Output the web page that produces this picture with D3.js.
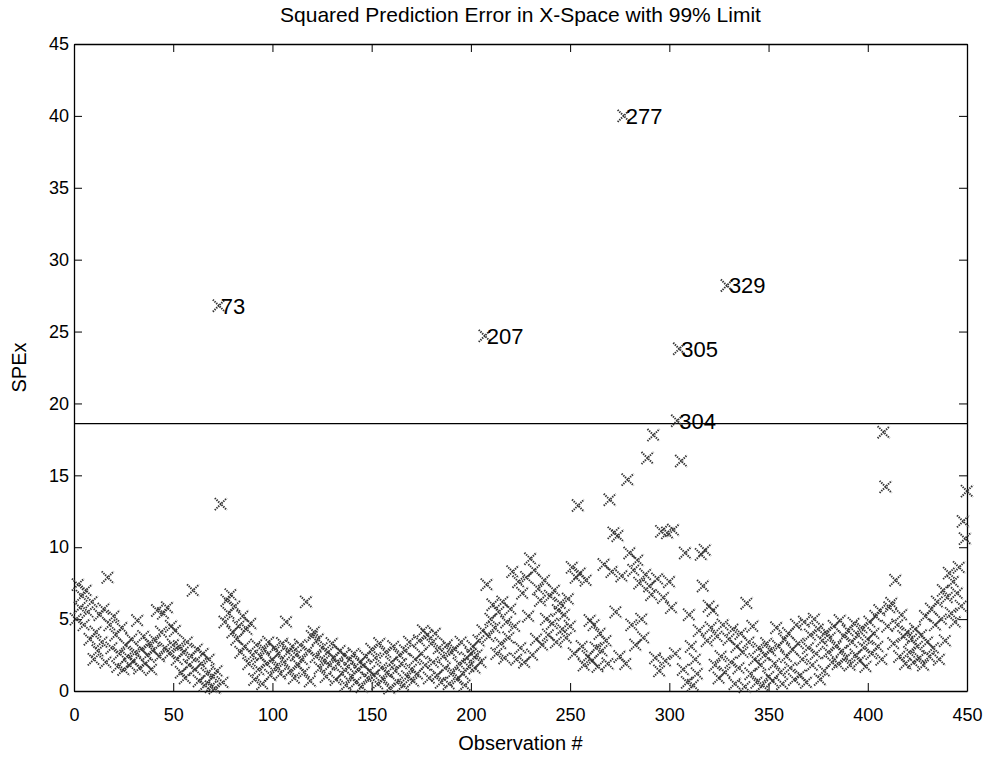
<!DOCTYPE html>
<html>
<head>
<meta charset="utf-8">
<script src="https://cdn.jsdelivr.net/npm/d3@7"></script>
<style>
  body { margin: 0; background: #fff; }
  text { font-family: "Liberation Sans", Arial, sans-serif; fill: #000; }
  .axis path, .axis line { stroke: #000; }
</style>
</head>
<body>
<div id="container"></div>
<script>
/* CONSTANTS AND GLOBALS */
const width = 992,
  height = 761,
  margin = { top: 44, bottom: 70, left: 74, right: 25 }

const spe = [
  5.0, 7.4, 5.8, 6.6, 4.6, 7.0, 5.5, 3.6, 6.2, 2.2,
  4.1, 2.8, 5.3, 3.4, 5.7, 2.0, 7.9, 4.6, 3.0, 5.2,
  3.9, 1.7, 2.6, 4.4, 1.5, 3.2, 2.4, 1.8, 3.6, 2.1,
  2.7, 4.9, 1.6, 2.9, 3.8, 1.9, 2.5, 3.3, 1.5, 2.8,
  3.5, 5.6, 2.4, 4.1, 5.4, 3.0, 5.8, 2.6, 4.5, 3.2,
  4.2, 2.2, 3.1, 1.3, 2.7, 0.9, 3.4, 1.8, 2.4, 7.0,
  1.5, 2.9, 0.7, 1.9, 2.6, 0.4, 1.2, 2.2, 0.3, 1.0,
  0.2, 1.4, 26.8, 13.0, 0.6, 4.8, 6.3, 5.4, 6.7, 4.1,
  5.9, 3.6, 4.5, 2.7, 5.2, 3.1, 4.3, 1.9, 4.7, 2.5,
  0.8, 3.2, 1.5, 2.4, 0.5, 2.9, 1.9, 3.4, 1.1, 2.2,
  3.0, 1.7, 2.6, 1.2, 3.3, 2.0, 4.8, 2.7, 1.4, 3.1,
  0.9, 2.5, 1.8, 3.2, 2.2, 1.3, 6.2, 2.8, 0.7, 3.8,
  4.1, 2.4, 3.6, 1.6, 3.0, 2.1, 1.0, 2.7, 1.8, 3.3,
  2.3, 0.8, 1.9, 2.8, 1.2, 2.5, 0.4, 1.7, 2.2, 1.0,
  2.6, 0.6, 1.5, 2.0, 0.3, 1.8, 2.4, 0.9, 1.4, 2.9,
  1.1, 2.3, 0.5, 3.3, 1.6, 0.8, 2.7, 1.3, 0.2, 2.0,
  3.1, 1.4, 0.6, 2.5, 1.9, 0.4, 2.8, 1.0, 3.4, 1.5,
  0.7, 2.2, 1.2, 3.5, 2.6, 4.2, 1.8, 3.9, 0.9, 3.3,
  2.0, 4.0, 1.1, 3.0, 0.6, 2.4, 1.6, 3.2, 0.5, 2.7,
  1.3, 2.9, 0.8, 1.9, 3.4, 1.2, 0.4, 2.3, 1.7, 2.6,
  3.1, 1.6, 2.5, 3.5, 2.0, 4.2, 24.7, 7.4, 3.8, 5.0,
  6.0, 4.4, 2.6, 5.5, 3.3, 6.2, 2.3, 4.8, 3.7, 5.7,
  8.3, 4.5, 2.2, 7.6, 3.0, 6.8, 2.0, 7.9, 5.2, 9.2,
  2.5, 8.4, 3.6, 7.1, 6.3, 3.2, 7.7, 5.0, 3.9, 6.6,
  4.7, 7.0, 3.4, 5.6, 6.1, 4.3, 5.3, 3.7, 6.4, 4.5,
  8.6, 2.6, 7.9, 12.9, 8.2, 3.1, 1.8, 7.7, 2.4, 4.9,
  2.1, 4.6, 3.0, 1.7, 4.0, 2.8, 8.8, 3.5, 1.9, 13.3,
  8.3, 11.0, 5.5, 10.8, 2.4, 8.0, 40.0, 1.9, 14.7, 9.6,
  4.6, 8.4, 3.2, 9.1, 7.5, 5.0, 3.7, 8.1, 16.2, 7.3,
  6.7, 17.8, 2.3, 7.8, 1.4, 11.1, 6.5, 2.1, 11.0, 7.6,
  5.8, 11.2, 2.6, 18.8, 23.8, 16.0, 1.5, 9.6, 0.6, 5.3,
  3.1, 0.4, 2.2, 1.2, 4.2, 9.5, 7.3, 9.8, 3.5, 5.9,
  4.4, 5.6, 1.8, 3.8, 0.9, 2.4, 4.6, 1.3, 28.2, 3.6,
  2.0, 4.3, 0.5, 3.1, 1.6, 4.0, 2.7, 0.3, 6.1, 3.4,
  1.2, 4.5, 2.2, 0.6, 3.0, 1.8, 0.4, 2.5, 3.3, 1.0,
  2.8, 0.7, 1.9, 4.4, 3.1, 1.3, 0.5, 3.6, 2.4, 4.0,
  1.6, 2.9, 0.8, 4.6, 3.3, 1.1, 2.2, 4.8, 0.6, 3.0,
  3.9, 1.8, 5.0, 2.6, 4.3, 0.8, 3.5, 1.4, 4.1, 2.7,
  3.7, 2.0, 4.5, 3.1, 1.9, 4.9, 2.8, 3.8, 2.3, 4.2,
  1.8, 3.4, 4.7, 2.5, 3.9, 2.1, 4.4, 3.0, 1.7, 3.6,
  4.8, 2.6, 4.0, 5.2, 3.1, 5.6, 2.2, 18.0, 14.2, 4.5,
  5.8, 6.1, 3.3, 7.7, 4.6, 2.4, 5.3, 3.8, 1.9, 4.1,
  2.7, 3.6, 2.0, 4.3, 3.1, 2.3, 3.9, 1.8, 5.2, 3.4,
  2.4, 5.7, 3.0, 4.6, 6.2, 2.2, 5.0, 7.0, 3.5, 6.5,
  8.2, 5.4, 7.6, 4.8, 6.8, 8.6, 5.9, 11.8, 10.6, 13.9
]

// observations flagged with their number
const flagged = [73, 207, 277, 304, 305, 329]
const limit99 = 18.6
const xTicks = [0, 50, 100, 150, 200, 250, 300, 350, 400, 450]
const yTicks = [0, 5, 10, 15, 20, 25, 30, 35, 40, 45]

const data = spe.map((v, i) => ({ obs: i + 1, spe: v }))

// SCALES
const xScale = d3.scaleLinear()
  .domain([0, 450])
  .range([margin.left, width - margin.right])

const yScale = d3.scaleLinear()
  .domain([0, 45])
  .range([height - margin.bottom, margin.top])

// CREATE SVG ELEMENT
const svg = d3.select("#container")
  .append("svg")
  .attr("width", width)
  .attr("height", height)

// BUILD AND CALL AXES (matlab style: ticks inside, on all four sides)
const tick = 8

svg.append("g")
  .attr("class", "axis")
  .attr("transform", `translate(0, ${height - margin.bottom})`)
  .call(d3.axisBottom(xScale).tickValues(xTicks).tickSizeInner(-tick).tickSizeOuter(0).tickPadding(17))
  .call(g => g.selectAll("text").attr("font-size", 18))

svg.append("g")
  .attr("class", "axis")
  .attr("transform", `translate(0, ${margin.top})`)
  .call(d3.axisTop(xScale).tickValues(xTicks).tickSizeInner(-tick).tickSizeOuter(0).tickFormat(""))

svg.append("g")
  .attr("class", "axis")
  .attr("transform", `translate(${margin.left}, 0)`)
  .call(d3.axisLeft(yScale).tickValues(yTicks).tickSizeInner(-tick).tickSizeOuter(0).tickPadding(5))
  .call(g => g.selectAll("text").attr("font-size", 18))

svg.append("g")
  .attr("class", "axis")
  .attr("transform", `translate(${width - margin.right}, 0)`)
  .call(d3.axisRight(yScale).tickValues(yTicks).tickSizeInner(-tick).tickSizeOuter(0).tickFormat(""))

svg.selectAll(".axis .domain").attr("stroke-width", 1.3)

// 99% LIMIT LINE
svg.append("line")
  .attr("x1", xScale(0))
  .attr("x2", xScale(450))
  .attr("y1", yScale(limit99))
  .attr("y2", yScale(limit99))
  .attr("stroke", "#000")
  .attr("stroke-width", 1.3)

// DRAW MARKERS (scanned look: dotted grey x)
const s = 6
svg.append("g")
  .selectAll("path")
  .data(data)
  .join("path")
  .attr("transform", d => `translate(${xScale(d.obs)}, ${yScale(d.spe)})`)
  .attr("d", `M${-s},${-s}L${s},${s}M${-s},${s}L${s},${-s}`)
  .attr("fill", "none")
  .attr("stroke", "#333")
  .attr("stroke-width", 2)
  .attr("stroke-dasharray", "1.4,1")

// LABEL THE OUTLIERS
svg.append("g")
  .selectAll("text")
  .data(data.filter(d => flagged.includes(d.obs)))
  .join("text")
  .attr("x", d => xScale(d.obs) + 2)
  .attr("y", d => yScale(d.spe))
  .attr("dy", "0.36em")
  .attr("font-size", 22)
  .text(d => d.obs)

// TITLE AND AXIS LABELS
svg.append("text")
  .attr("x", (margin.left + width - margin.right) / 2)
  .attr("y", 22)
  .attr("text-anchor", "middle")
  .attr("font-size", 21)
  .text("Squared Prediction Error in X-Space with 99% Limit")

svg.append("text")
  .attr("x", (margin.left + width - margin.right) / 2)
  .attr("y", 750)
  .attr("text-anchor", "middle")
  .attr("font-size", 20)
  .text("Observation #")

svg.append("text")
  .attr("transform", `translate(${26}, ${(margin.top + height - margin.bottom) / 2}) rotate(-90)`)
  .attr("text-anchor", "middle")
  .attr("font-size", 20)
  .text("SPEx")
</script>
</body>
</html>
